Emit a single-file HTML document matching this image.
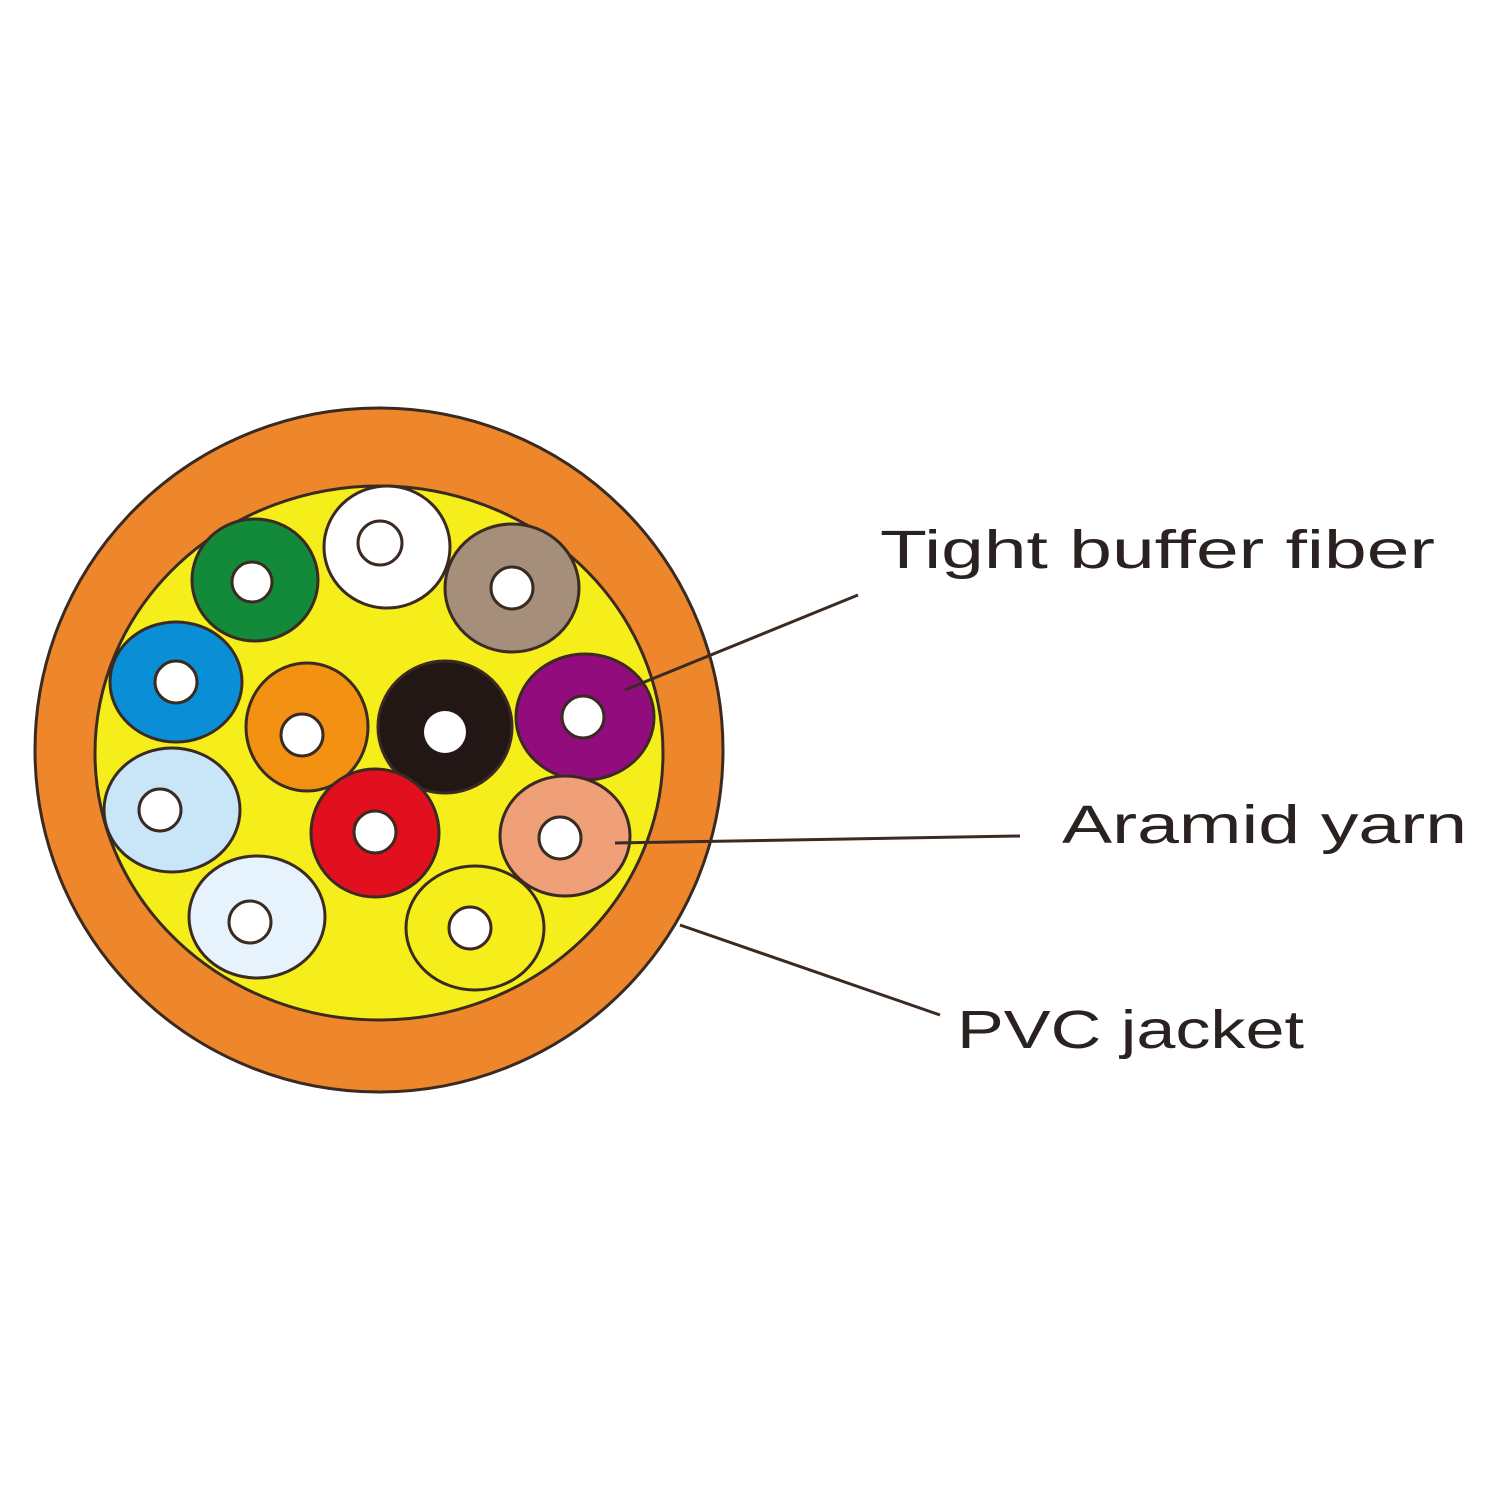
<!DOCTYPE html>
<html><head><style>html,body{margin:0;padding:0;background:#fff;}</style></head>
<body>
<svg width="1500" height="1500" viewBox="0 0 1500 1500" xmlns="http://www.w3.org/2000/svg">
<rect width="1500" height="1500" fill="#fff"/>
<ellipse cx="379" cy="750" rx="344" ry="342" fill="#ee872b" stroke="#3a2a22" stroke-width="3"/>
<ellipse cx="379" cy="753" rx="284" ry="267" fill="#f5ee1a" stroke="#3a2a22" stroke-width="3"/>
<g stroke="#3a2a22" stroke-width="3">
<ellipse cx="255" cy="580" rx="63" ry="61" fill="#138a3a"/>
<ellipse cx="387" cy="547" rx="63" ry="61" fill="#ffffff"/>
<ellipse cx="512" cy="588" rx="67" ry="64" fill="#a68f7a"/>
<ellipse cx="176" cy="682" rx="66" ry="60" fill="#0a8fd6"/>
<ellipse cx="307" cy="727" rx="61" ry="64" fill="#f39113"/>
<ellipse cx="445" cy="727" rx="67" ry="66" fill="#231715"/>
<ellipse cx="585" cy="717" rx="69" ry="63" fill="#930c7e"/>
<ellipse cx="172" cy="810" rx="68" ry="62" fill="#c8e6f8"/>
<ellipse cx="375" cy="833" rx="64" ry="64" fill="#e20f1e"/>
<ellipse cx="565" cy="836" rx="65" ry="60" fill="#efa078"/>
<ellipse cx="257" cy="917" rx="68" ry="61" fill="#e6f3fc"/>
<ellipse cx="475" cy="928" rx="69" ry="62" fill="#f5ee1a"/>
</g>
<g fill="#fff" stroke="#3a2a22" stroke-width="3">
<circle cx="252" cy="582" r="20"/>
<circle cx="380" cy="543" r="22"/>
<circle cx="512" cy="588" r="21"/>
<circle cx="176" cy="682" r="21"/>
<circle cx="302" cy="735" r="21"/>
<circle cx="445" cy="732" r="21" stroke="none"/>
<circle cx="583" cy="717" r="21"/>
<circle cx="160" cy="810" r="21"/>
<circle cx="375" cy="832" r="21"/>
<circle cx="560" cy="838" r="21"/>
<circle cx="250" cy="922" r="21"/>
<circle cx="470" cy="928" r="21"/>
</g>
<g stroke="#3a2a22" stroke-width="3">
<line x1="858" y1="595" x2="625" y2="690"/>
<line x1="1020" y1="836" x2="615" y2="843"/>
<line x1="940" y1="1015" x2="680" y2="925"/>
</g>
<g font-family="Liberation Sans, sans-serif" font-size="54" fill="#2a2220">
<text x="880" y="568" textLength="555" lengthAdjust="spacingAndGlyphs">Tight buffer fiber</text>
<text x="1062" y="843" textLength="405" lengthAdjust="spacingAndGlyphs">Aramid yarn</text>
<text x="957" y="1048" textLength="347" lengthAdjust="spacingAndGlyphs">PVC jacket</text>
</g>
</svg>
</body></html>
